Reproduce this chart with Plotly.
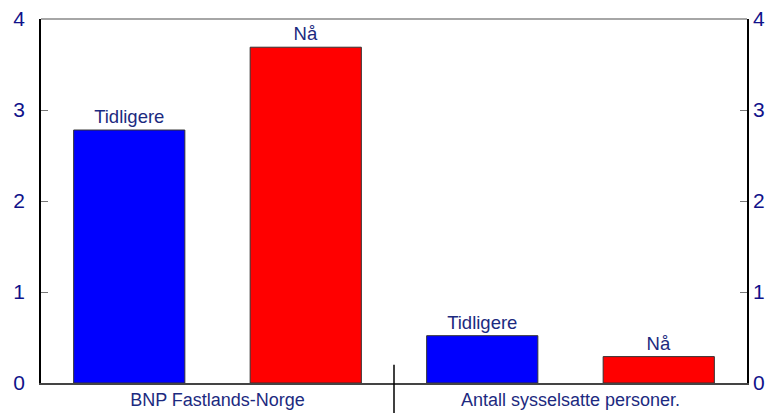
import plotly.graph_objects as go

categories = ["BNP Fastlands-Norge", "Antall sysselsatte personer."]
series_names = ["Tidligere", "Nå"]
tidligere = [2.78, 0.52]
naa = [3.69, 0.29]
tick_vals = [0, 1, 2, 3, 4]

text_col = "#1c2a80"
tick_col = "#10128a"
font_fam = "Liberation Sans, Arial, sans-serif"

fig = go.Figure()
for name, vals, col in [(series_names[0], tidligere, "#0000ff"), (series_names[1], naa, "#ff0000")]:
    fig.add_trace(go.Bar(
        x=categories, y=vals, name=name,
        marker=dict(color=col, line=dict(color="#333333", width=1)),
        text=[name] * len(vals), textposition="outside",
        textfont=dict(family=font_fam, size=18.5, color=text_col),
        cliponaxis=False,
    ))
# invisible trace to activate right axis
fig.add_trace(go.Scatter(x=categories, y=[None, None], yaxis="y2", showlegend=False, hoverinfo="skip"))

# page body has an 8px default margin, so the figure is sized to fit the window
fig.update_layout(
    width=770, height=405,
    margin=dict(l=33, r=31, t=11, b=30, autoexpand=False),
    paper_bgcolor="white", plot_bgcolor="white",
    barmode="group", bargap=0.0, bargroupgap=0.37,
    showlegend=False,
    font=dict(family=font_fam, color=tick_col),
    xaxis=dict(
        showline=True, linecolor="#444444", linewidth=1.5, automargin=False,
        showgrid=False, ticks="", tickfont=dict(size=18, color=text_col),
        zeroline=False, ticklabeloverflow="allow",
    ),
    yaxis=dict(
        range=[0, 4], tickvals=tick_vals, showgrid=False, zeroline=False, automargin=False,
        showline=True, linecolor="#000000", linewidth=1.5,
        ticks="inside", ticklen=7, tickcolor="#777777", ticklabelstandoff=10,
        tickfont=dict(size=21, color=tick_col), ticklabeloverflow="allow",
    ),
    yaxis2=dict(
        range=[0, 4], tickvals=tick_vals, overlaying="y", side="right", automargin=False,
        showgrid=False, zeroline=False,
        showline=True, linecolor="#000000", linewidth=1.5,
        ticks="inside", ticklen=7, tickcolor="#777777",
        tickfont=dict(size=21, color=tick_col), ticklabeloverflow="allow",
    ),
    shapes=[
        dict(type="line", xref="paper", yref="paper", x0=0, x1=1, y0=1, y1=1,
             line=dict(color="#888888", width=1.5)),
        dict(type="line", xref="paper", yref="paper", x0=0.5, x1=0.5, y0=0.05, y1=-0.09,
             line=dict(color="#000000", width=1.5)),
    ],
)

fig.write_html("out.html")
